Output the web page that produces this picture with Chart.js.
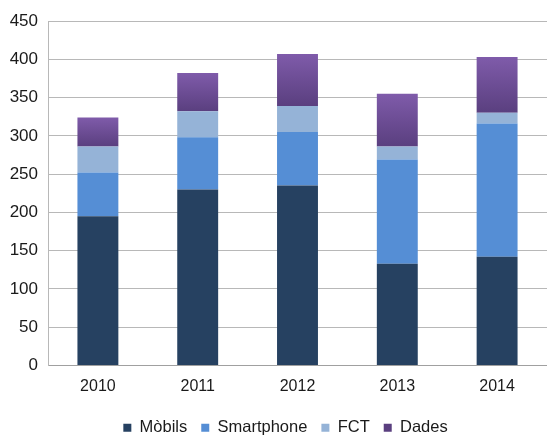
<!DOCTYPE html>
<html>
<head>
<meta charset="utf-8">
<script src="https://cdn.jsdelivr.net/npm/chart.js@4"></script>
<style>
  body { margin: 0; background: #fff; }
  canvas { display: block; }
</style>
</head>
<body>
<canvas id="chart" width="547" height="435"></canvas>
<script>
const years = ['2010', '2011', '2012', '2013', '2014'];
const mobils = [195, 230, 235, 133, 142];
const smartphone = [57, 68, 70, 136, 174];
const fct = [34, 34, 34, 17, 14];
const dades = [38, 50, 68, 69, 73];

// purple gradient for the top segment, lighter at the top of each bar
function dadesFill(ctx) {
    const chart = ctx.chart;
    const y = chart.scales.y;
    if (!y || ctx.dataIndex === undefined) return '#6b4b94';
    const i = ctx.dataIndex;
    const base = mobils[i] + smartphone[i] + fct[i];
    const top = y.getPixelForValue(base + dades[i]);
    const bottom = y.getPixelForValue(base);
    if (!isFinite(top) || !isFinite(bottom)) return '#6b4b94';
    const g = chart.ctx.createLinearGradient(0, top, 0, bottom);
    g.addColorStop(0, '#7f5baa');
    g.addColorStop(1, '#5a3f7f');
    return g;
}

// legend in the original sits a little right of centre
const legendShift = {
    id: 'legendShift',
    afterLayout(chart) {
        if (chart.legend) {
            chart.legend.left += 12;
            chart.legend.right += 12;
        }
    }
};

Chart.defaults.font.family = '"Liberation Sans", Arial, sans-serif';
Chart.defaults.color = '#1a1a1a';

new Chart(document.getElementById('chart').getContext('2d'), {
    type: 'bar',
    data: {
        labels: years,
        datasets: [
            { label: 'Mòbils', data: mobils, backgroundColor: '#264161' },
            { label: 'Smartphone', data: smartphone, backgroundColor: '#558ed5' },
            { label: 'FCT', data: fct, backgroundColor: '#95b3d7' },
            { label: 'Dades', data: dades, backgroundColor: dadesFill }
        ]
    },
    plugins: [legendShift],
    options: {
        responsive: false,
        animation: false,
        layout: { padding: { top: 21, right: 0, left: 0, bottom: -11 } },
        datasets: {
            bar: { categoryPercentage: 1, barPercentage: 0.41 }
        },
        scales: {
            x: {
                stacked: true,
                grid: { display: false },
                border: { color: '#a0a0a0', width: 1 },
                ticks: { font: { size: 16 }, padding: 3 },
                afterFit: (scale) => { scale.height = 40; }
            },
            y: {
                stacked: true,
                min: 0,
                max: 450,
                ticks: { stepSize: 50, font: { size: 17 }, padding: 10 },
                grid: { color: '#b8b8b8', drawTicks: false },
                border: { color: '#b8b8b8', width: 1 },
                afterFit: (scale) => { scale.width = 48; }
            }
        },
        plugins: {
            legend: {
                position: 'bottom',
                labels: {
                    boxWidth: 8,
                    boxHeight: 8,
                    padding: 14,
                    font: { size: 16.5, lineHeight: 1 },
                    color: '#1a1a1a'
                }
            },
            tooltip: { enabled: false }
        }
    }
});
</script>
</body>
</html>
